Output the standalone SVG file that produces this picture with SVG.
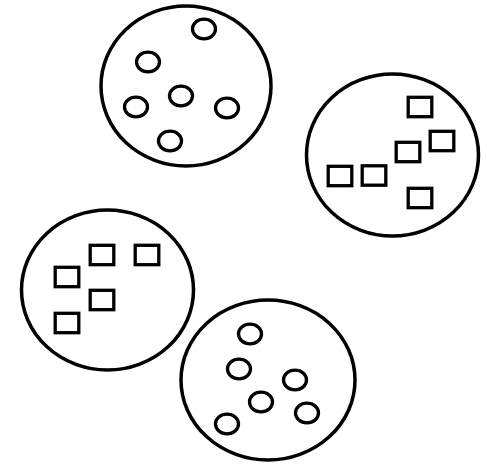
<svg xmlns="http://www.w3.org/2000/svg" width="487" height="466" viewBox="0 0 487 466">
<style>
.big{fill:none;stroke:#000;stroke-width:3.5}
.dot{fill:none;stroke:#000;stroke-width:3.3}
.sq{fill:none;stroke:#000;stroke-width:3.3}
</style>
<defs>
<ellipse id="o" class="dot" cx="0" cy="0" rx="11.5" ry="9.8"/>
<rect id="s" class="sq" x="-11.8" y="-9.7" width="23.6" height="19.4"/>
</defs>
<rect width="487" height="466" fill="#fff"/>
<g id="set1">
<ellipse class="big" cx="186" cy="86" rx="85" ry="80"/>
<use href="#o" x="204" y="29"/>
<use href="#o" x="148" y="62"/>
<use href="#o" x="181" y="96"/>
<use href="#o" x="136" y="107"/>
<use href="#o" x="227" y="108"/>
<use href="#o" x="170" y="141"/>
</g>
<g id="set2">
<ellipse class="big" cx="392.5" cy="155" rx="86" ry="81"/>
<use href="#s" x="420" y="107"/>
<use href="#s" x="442" y="141"/>
<use href="#s" x="408" y="152"/>
<use href="#s" x="340" y="176"/>
<use href="#s" x="374" y="175.5"/>
<use href="#s" x="420" y="198"/>
</g>
<g id="set3">
<ellipse class="big" cx="107.5" cy="290" rx="86" ry="80"/>
<use href="#s" x="102" y="255"/>
<use href="#s" x="147" y="255"/>
<use href="#s" x="67" y="277"/>
<use href="#s" x="102" y="300"/>
<use href="#s" x="67" y="323"/>
</g>
<g id="set4">
<ellipse class="big" cx="268" cy="380" rx="87" ry="80"/>
<use href="#o" x="250" y="334"/>
<use href="#o" x="239" y="369"/>
<use href="#o" x="295" y="380"/>
<use href="#o" x="261" y="402"/>
<use href="#o" x="307" y="413"/>
<use href="#o" x="227" y="424"/>
</g>
</svg>
